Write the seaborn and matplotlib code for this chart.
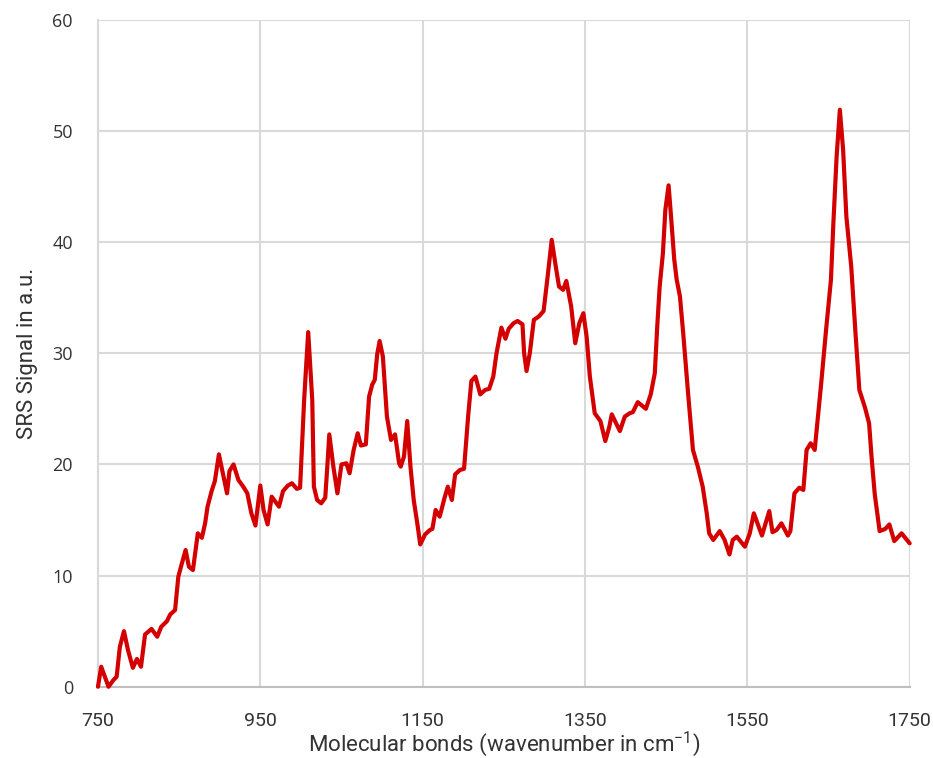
import matplotlib
matplotlib.use("Agg")
import matplotlib.pyplot as plt
import seaborn as sns
import pandas as pd

# traced SRS spectrum
wavenumber = [
    750, 754, 763, 769, 773, 777, 782, 787, 793, 798, 803, 808, 816, 823, 828,
    835, 839, 845, 849, 853, 858, 862, 867, 873, 878, 882, 885, 890, 894, 899,
    903, 909, 912, 917, 923, 929, 934, 939, 944, 950, 954, 959, 964, 973, 978,
    984, 989, 995, 999, 1004, 1009, 1014, 1016, 1020, 1025, 1030, 1032, 1035,
    1040, 1045, 1050, 1056, 1060, 1065, 1070, 1074, 1080, 1084, 1088, 1091,
    1094, 1097, 1101, 1106, 1111, 1116, 1121, 1123, 1127, 1131, 1135, 1139,
    1144, 1147, 1153, 1159, 1162, 1166, 1171, 1177, 1181, 1186, 1190, 1196,
    1201, 1206, 1210, 1215, 1221, 1227, 1232, 1237, 1241, 1247, 1252, 1256,
    1262, 1267, 1273, 1275, 1278, 1282, 1287, 1293, 1299, 1304, 1309, 1314,
    1318, 1323, 1327, 1333, 1338, 1343, 1348, 1352, 1356, 1362, 1369, 1375,
    1380, 1383, 1393, 1399, 1405, 1409, 1415, 1420, 1425, 1431, 1436, 1439,
    1442, 1446, 1449, 1453, 1456, 1460, 1463, 1467, 1471, 1477, 1483, 1489,
    1495, 1500, 1503, 1508, 1516, 1522, 1528, 1532, 1537, 1547, 1553, 1558,
    1568, 1577, 1581, 1586, 1592, 1600, 1603, 1608, 1614, 1619, 1623, 1628,
    1633, 1637, 1641, 1647, 1653, 1656, 1660, 1664, 1668, 1672, 1678, 1683,
    1688, 1695, 1700, 1703, 1707, 1713, 1720, 1725, 1731, 1740, 1750,
]
signal = [
    0.0, 1.8, 0.0, 0.6, 0.9, 3.6, 5.0, 3.3, 1.7, 2.5, 1.8, 4.7, 5.2, 4.5, 5.4,
    5.9, 6.5, 6.9, 9.9, 11.0, 12.3, 10.8, 10.5, 13.8, 13.4, 14.7, 16.2, 17.6, 18.5, 20.9,
    19.5, 17.4, 19.4, 20.0, 18.6, 18.0, 17.4, 15.6, 14.5, 18.1, 15.9, 14.6, 17.1, 16.2, 17.6,
    18.1, 18.3, 17.8, 17.9, 25.8, 31.9, 25.8, 18.0, 16.8, 16.5, 17.0, 19.2, 22.7,
    19.8, 17.4, 20.0, 20.1, 19.2, 21.3, 22.8, 21.7, 21.8, 26.1, 27.2, 27.6,
    29.9, 31.1, 29.7, 24.3, 22.2, 22.7, 20.1, 19.8, 20.7, 23.9, 19.8, 16.8,
    14.4, 12.8, 13.7, 14.1, 14.2, 15.9, 15.3, 17.0, 18.0, 16.8, 19.1, 19.5,
    19.6, 24.3, 27.5, 27.9, 26.3, 26.7, 26.8, 27.9, 30.0, 32.3, 31.3, 32.2,
    32.7, 32.9, 32.6, 30.0, 28.4, 30.0, 33.0, 33.3, 33.8, 36.9, 40.2, 37.8,
    36.0, 35.7, 36.5, 34.2, 30.9, 32.7, 33.6, 31.5, 27.9, 24.6, 23.9, 22.1,
    23.4, 24.5, 23.0, 24.3, 24.6, 24.7, 25.6, 25.3, 25.0, 26.3, 28.2, 32.4,
    36.0, 39.0, 42.9, 45.1, 42.3, 38.4, 36.6, 35.1, 31.8, 26.4, 21.3, 19.8,
    18.0, 15.6, 13.8, 13.2, 14.0, 13.2, 11.9, 13.2, 13.5, 12.6, 13.8, 15.6,
    13.6, 15.8, 13.9, 14.1, 14.7, 13.6, 14.0, 17.4, 17.9, 17.7, 21.3, 21.9,
    21.3, 24.3, 27.3, 32.1, 36.6, 41.7, 47.7, 51.9, 48.3, 42.3, 37.8, 32.1,
    26.7, 25.1, 23.7, 20.7, 17.3, 14.0, 14.2, 14.6, 13.1, 13.8, 12.9,
]
x_ticks = [750, 950, 1150, 1350, 1550, 1750]
y_ticks = [0, 10, 20, 30, 40, 50, 60]

df = pd.DataFrame({"wavenumber": wavenumber, "signal": signal})

sns.set_style("white")
plt.rcParams["font.family"] = ["Roboto", "DejaVu Sans"]

fig = plt.figure(figsize=(9.33, 7.58), dpi=100)
ax = fig.add_axes([0.105, 0.094, 0.870, 0.880])

sns.lineplot(data=df, x="wavenumber", y="signal", ax=ax, color="#d40000",
             linewidth=3.0, estimator=None, sort=False, clip_on=False, zorder=5)

ax.set_xlim(750, 1750)
ax.set_ylim(0, 60)
ax.set_xticks(x_ticks)
ax.set_yticks(y_ticks)
ax.set_xticklabels([str(v) for v in x_ticks], fontsize=14, color="#333333")
ax.set_yticklabels([str(v) for v in y_ticks], fontsize=13, color="#333333",
                   family=["Open Sans", "DejaVu Sans"])
ax.tick_params(axis="x", length=0, pad=18)
ax.tick_params(axis="y", length=0, pad=18)

ax.grid(True, color="#d9d9d9", linewidth=1.5)
for side in ["top", "right"]:
    ax.spines[side].set_visible(False)
ax.spines["left"].set_color("#d9d9d9")
ax.spines["left"].set_linewidth(1.5)
ax.spines["bottom"].set_color("#bfbfbf")
ax.spines["bottom"].set_linewidth(1.5)

ax.set_xlabel("Molecular bonds (wavenumber in cm$^{\\mathregular{-1}}$)", fontsize=16,
              color="#333333", labelpad=0)
ax.set_ylabel("SRS Signal in a.u.", fontsize=16, color="#333333", labelpad=10)

fig.savefig("out.png", dpi=100)
